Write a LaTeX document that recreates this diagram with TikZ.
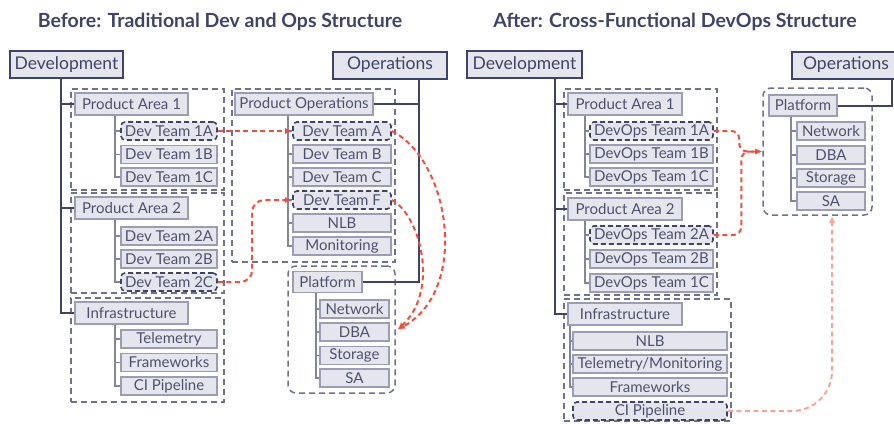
\documentclass[tikz,border=0pt]{standalone}
\usepackage{fontspec}
\setmainfont{Lato}
\usetikzlibrary{arrows.meta}
\definecolor{navy}{HTML}{3F4368}
\definecolor{boxfill}{HTML}{E5E6ED}
\definecolor{boxline}{HTML}{9A9DB4}
\definecolor{boxtext}{HTML}{4D5170}
\definecolor{grpline}{HTML}{6E7290}
\definecolor{hotred}{HTML}{EF4F3E}
\definecolor{softred}{HTML}{F6A597}

\begin{document}
\begin{tikzpicture}[x=1pt,y=-1pt]
    \tikzset{head/.style={rectangle, draw=navy, line width=2pt, fill=boxfill, text=navy, font=\fontsize{17.5}{18}\selectfont, minimum height=27pt, inner sep=0pt},
        box/.style={rectangle, draw=boxline, line width=1.3pt, fill=boxfill, text=boxtext, font=\fontsize{15}{16}\selectfont, minimum width=96pt, minimum height=18pt, inner sep=0pt},
        hot/.style={box, draw=navy, dash pattern=on 5pt off 3pt, rounded corners=4pt, line width=1.6pt},
        grp/.style={rectangle, draw=grpline, line width=1.5pt, dash pattern=on 6pt off 4pt, inner sep=0pt},
        trunk/.style={draw=navy, line width=2pt},
        twig/.style={draw=boxline!85!black, line width=1.2pt},
        move/.style={draw=hotred, line width=2pt, dash pattern=on 5pt off 3.5pt, -{Latex[length=7pt,width=6pt]}}};
    \useasboundingbox (0,0) rectangle (894,423);
    \clip (0,0) rectangle (894,423);

    % titles
    \node[font=\bfseries\fontsize{19.5}{20}\selectfont, text=navy] (titleL) at (220,22) {Before: Traditional Dev and Ops Structure};
    \node[font=\bfseries\fontsize{19.5}{20}\selectfont, text=navy] (titleR) at (675,22) {After: Cross-Functional DevOps Structure};

    % before: dashed groups
    \node[grp, minimum width=153pt, minimum height=101pt] (paGL1) at (147.5,139.5) {};
    \node[grp, minimum width=153pt, minimum height=100pt] (paGL2) at (147.5,243) {};
    \node[grp, minimum width=153pt, minimum height=104pt] (infGL) at (147.5,350) {};
    \node[grp, minimum width=163pt, minimum height=173pt] (poGL) at (313.5,175.5) {};
    \node[grp, rounded corners=8pt, minimum width=107pt, minimum height=127pt] (platGL) at (341.5,329.5) {};

    % before: development side
    \node[head, minimum width=113pt] (devL) at (66.5,64.5) {Development};
    \node[box, minimum width=113pt, minimum height=22pt] (pa1L) at (131.5,104) {Product Area 1};
    \node[hot] (t1aL) at (169,131) {Dev Team 1A};
    \node[box] (t1bL) at (169,154.5) {Dev Team 1B};
    \node[box] (t1cL) at (169,177) {Dev Team 1C};
    \node[box, minimum width=113pt, minimum height=22pt] (pa2L) at (131.5,208) {Product Area 2};
    \node[box] (t2aL) at (169,236) {Dev Team 2A};
    \node[box] (t2bL) at (169,259) {Dev Team 2B};
    \node[hot] (t2cL) at (169,282) {Dev Team 2C};
    \node[box, minimum width=113pt, minimum height=22pt] (infL) at (131.5,313) {Infrastructure};
    \node[box] (telL) at (169,339) {Telemetry};
    \node[box] (fwL) at (169,362.5) {Frameworks};
    \node[box] (ciL) at (169,386) {CI Pipeline};

    % before: operations side
    \node[head, minimum width=114pt] (opsL) at (390,65) {Operations};
    \node[box, minimum width=138pt, minimum height=22pt] (poL) at (304,104) {Product Operations};
    \node[hot, minimum width=98pt] (taL) at (342,131) {Dev Team A};
    \node[box, minimum width=98pt] (tbL) at (342,154) {Dev Team B};
    \node[box, minimum width=98pt] (tcL) at (342,177) {Dev Team C};
    \node[hot, minimum width=98pt] (tfL) at (342,200) {Dev Team F};
    \node[box, minimum width=98pt] (nlbL) at (342,223) {NLB};
    \node[box, minimum width=98pt] (monL) at (342,246) {Monitoring};
    \node[box, minimum width=69pt, minimum height=21pt] (platL) at (327.5,282) {Platform};
    \node[box, minimum width=69pt] (netL) at (354.5,309) {Network};
    \node[box, minimum width=69pt] (dbaL) at (354.5,332) {DBA};
    \node[box, minimum width=69pt] (stoL) at (354.5,355.5) {Storage};
    \node[box, minimum width=69pt] (saL) at (354.5,378) {SA};

    % before: tree lines
    \draw[trunk] ([xshift=-5.5pt]devL.south) |- (infL.west) (pa1L.west) -- ++(-14,0) (pa2L.west) -- ++(-14,0);
    \draw[twig] ([xshift=-16.5pt]pa1L.south) |- (t1cL.west) (t1aL.west) -- ++(-6,0) (t1bL.west) -- ++(-6,0);
    \draw[twig] ([xshift=-16.5pt]pa2L.south) |- (t2cL.west) (t2aL.west) -- ++(-6,0) (t2bL.west) -- ++(-6,0);
    \draw[twig] ([xshift=-16.5pt]infL.south) |- (ciL.west) (telL.west) -- ++(-6,0) (fwL.west) -- ++(-6,0);
    \draw[trunk] ([xshift=29pt]opsL.south) |- (platL.east) (poL.east) -- ++(46,0);
    \draw[twig] ([xshift=-16pt]poL.south) |- (monL.west) (taL.west) -- ++(-5,0) (tbL.west) -- ++(-5,0)
        (tcL.west) -- ++(-5,0) (tfL.west) -- ++(-5,0) (nlbL.west) -- ++(-5,0);
    \draw[twig] ([xshift=-11.5pt]platL.south) |- (saL.west) (netL.west) -- ++(-4,0) (dbaL.west) -- ++(-4,0) (stoL.west) -- ++(-4,0);

    % before: moves
    \draw[move] (t1aL.east) -- (taL.west);
    \draw[move, rounded corners=12pt] (t2cL.east) -| ([xshift=-40pt]tfL.west) -- (tfL.west);
    \draw[move] (taL.east) .. controls (450,160) and (470,290) .. ([xshift=2pt]platGL.east);
    \draw[move] (tfL.east) .. controls (420,215) and (440,290) .. ([xshift=2pt]platGL.east);

    % after: dashed groups
    \node[grp, minimum width=153pt, minimum height=101pt] (paGR1) at (640.5,139.5) {};
    \node[grp, minimum width=153pt, minimum height=102pt] (paGR2) at (640.5,244) {};
    \node[grp, minimum width=167pt, minimum height=122pt] (infGR) at (647.5,360) {};
    \node[grp, rounded corners=8pt, minimum width=109pt, minimum height=127pt] (platGR) at (817.5,151.5) {};

    % after: development side
    \node[head, minimum width=115pt] (devR) at (524.5,64.5) {Development};
    \node[box, minimum width=114pt, minimum height=22pt] (pa1R) at (625,104) {Product Area 1};
    \node[hot, minimum width=123pt] (u1aR) at (651.5,131) {DevOps Team 1A};
    \node[box, minimum width=123pt] (u1bR) at (651.5,154) {DevOps Team 1B};
    \node[box, minimum width=123pt] (u1cR) at (651.5,177) {DevOps Team 1C};
    \node[box, minimum width=114pt, minimum height=22pt] (pa2R) at (625,209) {Product Area 2};
    \node[hot, minimum width=123pt] (u2aR) at (651.5,235) {DevOps Team 2A};
    \node[box, minimum width=123pt] (u2bR) at (651.5,259) {DevOps Team 2B};
    \node[box, minimum width=123pt] (u2cR) at (651.5,283) {DevOps Team 1C};
    \node[box, minimum width=114pt, minimum height=22pt] (infR) at (625,314) {Infrastructure};
    \node[box, minimum width=154pt] (nlbR) at (650,341) {NLB};
    \node[box, minimum width=154pt] (telR) at (650,364) {Telemetry/Monitoring};
    \node[box, minimum width=154pt] (fwR) at (650,387) {Frameworks};
    \node[hot, minimum width=154pt] (ciR) at (650,411) {CI Pipeline};

    % after: operations side
    \node[head, minimum width=108pt] (opsR) at (846,65) {Operations};
    \node[box, minimum width=68pt, minimum height=21pt] (platR) at (803,105.5) {Platform};
    \node[box, minimum width=68pt] (netR) at (831,131) {Network};
    \node[box, minimum width=68pt] (dbaR) at (831,155) {DBA};
    \node[box, minimum width=68pt] (stoR) at (831,178) {Storage};
    \node[box, minimum width=68pt] (saR) at (831,201) {SA};

    % after: tree lines
    \draw[trunk] ([xshift=30.5pt]devR.south) |- (infR.west) (pa1R.west) -- ++(-13,0) (pa2R.west) -- ++(-13,0);
    \draw[twig] ([xshift=-40pt]pa1R.south) |- (u1cR.west) (u1aR.west) -- ++(-5,0) (u1bR.west) -- ++(-5,0);
    \draw[twig] ([xshift=-40pt]pa2R.south) |- (u2cR.west) (u2aR.west) -- ++(-5,0) (u2bR.west) -- ++(-5,0);
    \draw[twig] ([xshift=-55pt]infR.south) |- (fwR.west) (nlbR.west) -- ++(-3,0) (telR.west) -- ++(-3,0);
    \draw[trunk] ([xshift=46pt]opsR.south) |- (platR.east);
    \draw[twig] ([xshift=-12pt]platR.south) |- (saR.west) (netR.west) -- ++(-6,0) (dbaR.west) -- ++(-6,0) (stoR.west) -- ++(-6,0);

    % after: moves
    \draw[move, rounded corners=8pt] (u1aR.east) -| ([xshift=-23pt]platGR.west) -- (platGR.west);
    \draw[move, rounded corners=8pt] (u2aR.east) -| ([xshift=-21pt]platGR.west) -- (platGR.west);
    \draw[move, draw=softred, rounded corners=40pt] (ciR.east) -| ([xshift=14.5pt]platGR.south);
\end{tikzpicture}
\end{document}
